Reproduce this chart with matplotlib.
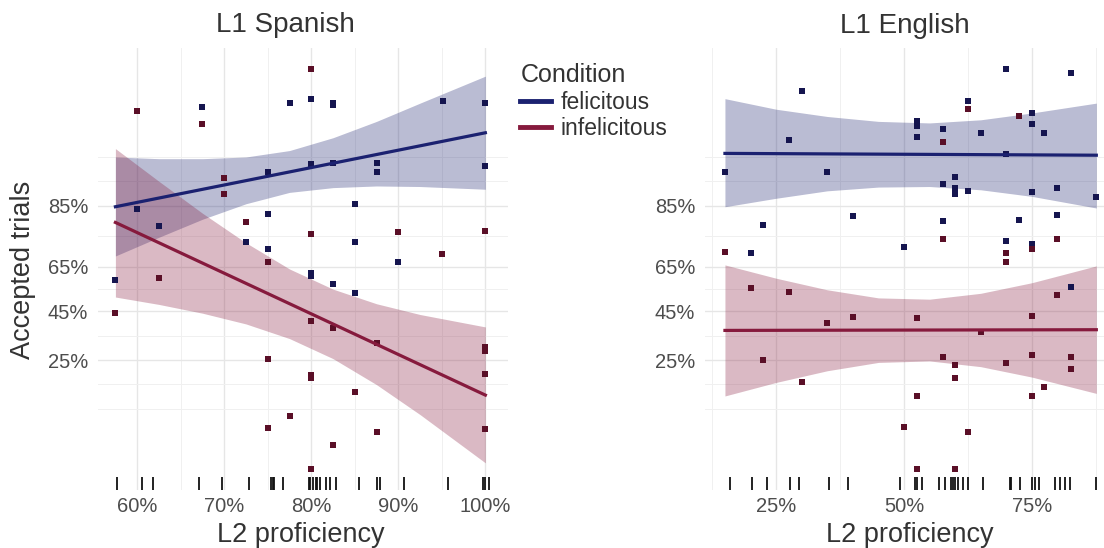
import numpy as np
import matplotlib
matplotlib.use('Agg')
import matplotlib.pyplot as plt
from matplotlib.lines import Line2D
from matplotlib.ticker import FixedLocator, NullFormatter

plt.rcParams['font.family'] = ['Liberation Sans', 'DejaVu Sans']

# ---- L1 Spanish panel (x = L2 proficiency %, y = accepted trials %) ----
spa_fel_x = [67.4, 77.5, 80.0, 82.5, 82.5, 95.1, 100, 100, 87.5, 87.5, 80, 82.5, 75,
             60, 62.5, 75, 85, 72.5, 75, 85, 90, 80, 80, 57.5, 82.5, 85]
spa_fel_y = [97.2, 97.4, 97.6, 97.4, 97.3, 97.5, 97.4, 92.2, 92.6, 91.4, 92.4, 92.6, 91.4,
             84.2, 79.7, 83.0, 85.5, 74.4, 72.0, 74.6, 67.1, 62.3, 61.0, 59.3, 57.5, 53.5]
spa_inf_x = [100, 90, 80, 72.5, 95, 75, 60, 67.4, 80, 62.5, 70, 70, 57.5, 80, 82.5, 87.5,
             100, 100, 100, 75, 80, 80, 85, 77.5, 75, 87.5, 100, 82.5, 80]
spa_inf_y = [78.2, 77.8, 77.1, 80.9, 70.1, 66.7, 97.0, 96.2, 98.6, 60.0, 90.4, 87.6, 44.1,
             40.8, 37.4, 31.2, 29.9, 28.3, 20.4, 25.4, 20.2, 19.3, 15.7, 10.7, 8.7, 8.1,
             8.6, 6.5, 4.3]
spa_line_x = [57.5, 100]
spa_fel_line = [84.8, 95.6]
spa_inf_line = [80.7, 14.9]
spa_band_x = [57.5, 62.5, 67.5, 72.5, 77.5, 82.5, 87.5, 92.5, 100]
spa_fel_lo = [69.3, 76.1, 81.6, 85.5, 87.9, 88.8, 89.1, 89.0, 88.5]
spa_fel_hi = [93.3, 93.1, 93.1, 93.3, 94.0, 95.2, 96.4, 97.4, 98.4]
spa_inf_lo = [51.5, 48.1, 44.1, 39.3, 33.1, 25.5, 17.5, 10.9, 4.8]
spa_inf_hi = [94.2, 89.9, 83.2, 74.2, 64.0, 55.1, 48.4, 43.5, 38.0]
spa_rug = [57.7, 60.5, 61.8, 67.1, 69.7, 72.8, 75.4, 75.6, 75.7, 76.7, 79.7, 79.9, 80.2,
           80.5, 80.7, 81.0, 81.7, 82.2, 82.8, 85.5, 87.6, 87.9, 90.6, 95.7, 99.7, 100.0, 100.4]

# ---- L1 English panel ----
eng_fel_x = [70, 82.6, 30, 62.5, 75, 75, 77.4, 52.6, 52.6, 52.6, 52.6, 57.6, 65, 27.5, 70,
             15, 35, 60, 57.6, 60, 60, 62.5, 75, 80, 87.6, 40.1, 22.5, 57.6, 72.5, 80, 50,
             70, 75, 75, 82.6, 20]
eng_fel_y = [98.6, 98.5, 97.9, 97.5, 96.9, 96.2, 95.6, 96.4, 96.3, 96.1, 95.3, 95.9, 95.6,
             95.0, 93.6, 91.3, 91.3, 90.6, 89.4, 88.8, 87.5, 88.1, 87.9, 88.8, 87.0, 82.5,
             80.1, 81.0, 81.5, 82.8, 72.8, 74.7, 73.7, 72.9, 56.0, 70.4]
eng_inf_x = [62.5, 72.5, 57.6, 57.6, 80, 70, 75, 70, 15, 20, 27.5, 35, 40.1, 52.6, 65, 80,
             75, 22.5, 57.6, 60, 60, 70, 75, 82.6, 82.6, 30, 77.4, 52.6, 75, 50, 62.5,
             52.6, 60]
eng_inf_y = [97.1, 96.7, 94.8, 75.6, 75.6, 70.4, 71.9, 66.8, 70.9, 55.5, 54.0, 39.7, 42.6,
             41.8, 36.0, 52.5, 42.9, 25.0, 26.1, 23.3, 19.3, 23.9, 26.9, 26.1, 22.1, 18.1,
             16.9, 14.6, 14.6, 8.9, 8.1, 4.3, 4.3]
eng_line_x = [15, 87.6]
eng_fel_line = [93.7, 93.5]
eng_inf_line = [36.5, 36.8]
eng_band_x = [15, 25, 35, 45, 55, 65, 75, 87.6]
eng_fel_lo = [84.8, 86.7, 88.2, 88.9, 89.0, 88.4, 87.1, 84.5]
eng_fel_hi = [97.6, 97.1, 96.7, 96.4, 96.3, 96.5, 96.9, 97.4]
eng_inf_lo = [14.7, 18.1, 21.5, 24.2, 24.7, 22.8, 19.6, 15.3]
eng_inf_hi = [65.7, 60.0, 54.8, 51.1, 50.5, 53.2, 58.0, 65.3]
eng_rug = [16.0, 20.3, 23.2, 27.7, 29.4, 35.4, 39.1, 49.2, 52.1, 52.5, 53.5, 56.9, 58.0,
           59.1, 59.6, 60.0, 60.6, 61.6, 62.6, 65.4, 70.7, 71.0, 72.7, 75.1, 75.6, 76.4,
           79.5, 80.5, 81.4, 82.4, 87.6]

y_ticks = [25, 45, 65, 85]
y_labels = ['25%', '45%', '65%', '85%']
conditions = ['felicitous', 'infelicitous']

fel_color = '#1b2170'
inf_color = '#861a3d'
fel_pt = '#15154f'
inf_pt = '#5a0f27'
text_grey = '#4d4d4d'


def pct(v):
    return np.array(v) / 100.0


# minor gridlines like ggplot: halfway between breaks (in logit units) + one step beyond
lt = np.log(pct(y_ticks) / (1 - pct(y_ticks)))
step = lt[1] - lt[0]
ext = np.concatenate([[lt[0] - step], lt, [lt[-1] + step]])
minor_l = np.concatenate([(ext[:-1] + ext[1:]) / 2, [ext[0], ext[-1]]])
minor_p = 1 / (1 + np.exp(-minor_l))

fig = plt.figure(figsize=(11.04, 5.48), dpi=100)
ax_spa = fig.add_axes([98 / 1104, 58 / 548, 410 / 1104, 442 / 548])
ax_eng = fig.add_axes([705 / 1104, 58 / 548, 399 / 1104, 442 / 548])


def draw_panel(ax, band_x, fel_lo, fel_hi, inf_lo, inf_hi, line_x, fel_line, inf_line,
               fel_x, fel_y, inf_x, inf_y, rug, xlim, xticks, xlabels, xminor):
    ax.set_yscale('logit')
    ax.fill_between(band_x, pct(fel_lo), pct(fel_hi), color=fel_color, alpha=0.3,
                    lw=0, zorder=1)
    ax.fill_between(band_x, pct(inf_lo), pct(inf_hi), color=inf_color, alpha=0.3,
                    lw=0, zorder=1)
    ax.scatter(fel_x, pct(fel_y), marker='s', s=14, color=fel_pt, lw=0, zorder=2)
    ax.scatter(inf_x, pct(inf_y), marker='s', s=14, color=inf_pt, lw=0, zorder=2)
    ax.plot(line_x, pct(fel_line), color=fel_color, lw=2.3, zorder=3)
    ax.plot(line_x, pct(inf_line), color=inf_color, lw=2.3, zorder=3)
    # rug along the bottom
    ax.vlines(rug, 0, 0.03, transform=ax.get_xaxis_transform(), color='#111111',
              lw=1.3, zorder=2)

    ax.set_xlim(*xlim)
    ax.set_ylim(0.0297, 0.9904)
    ax.set_xticks(xticks, xlabels)
    ax.xaxis.set_minor_locator(FixedLocator(xminor))
    ax.set_yticks(pct(y_ticks), y_labels)
    ax.yaxis.set_minor_locator(FixedLocator(minor_p))
    ax.yaxis.set_minor_formatter(NullFormatter())
    ax.xaxis.set_minor_formatter(NullFormatter())
    ax.tick_params(which='both', length=0, labelsize=14.5, labelcolor=text_grey)
    ax.tick_params(axis='y', pad=7)
    ax.tick_params(axis='x', pad=5)
    ax.grid(which='major', color='#e6e6e6', lw=1.0)
    ax.grid(which='minor', color='#f0f0f0', lw=0.7)
    ax.set_axisbelow(True)
    for s in ax.spines.values():
        s.set_visible(False)


draw_panel(ax_spa, spa_band_x, spa_fel_lo, spa_fel_hi, spa_inf_lo, spa_inf_hi,
           spa_line_x, spa_fel_line, spa_inf_line, spa_fel_x, spa_fel_y,
           spa_inf_x, spa_inf_y, spa_rug, (55.5, 102.6),
           [60, 70, 80, 90, 100], ['60%', '70%', '80%', '90%', '100%'],
           [65, 75, 85, 95])
draw_panel(ax_eng, eng_band_x, eng_fel_lo, eng_fel_hi, eng_inf_lo, eng_inf_hi,
           eng_line_x, eng_fel_line, eng_inf_line, eng_fel_x, eng_fel_y,
           eng_inf_x, eng_inf_y, eng_rug, (11.1, 89.1),
           [25, 50, 75], ['25%', '50%', '75%'], [12.5, 37.5, 62.5, 87.5])

# titles and axis titles
fig.text(285 / 1104, 1 - 25 / 548, 'L1 Spanish', ha='center', va='center',
         fontsize=20, color='#333333')
fig.text(905 / 1104, 1 - 26 / 548, 'L1 English', ha='center', va='center',
         fontsize=20, color='#333333')
fig.text(23 / 1104, 1 - 270 / 548, 'Accepted trials', rotation=90, ha='center',
         va='center', fontsize=19.5, color='#333333')
fig.text(301 / 1104, 1 - 535 / 548, 'L2 proficiency', ha='center', va='center',
         fontsize=19.5, color='#333333')
fig.text(910 / 1104, 1 - 535 / 548, 'L2 proficiency', ha='center', va='center',
         fontsize=19.5, color='#333333')

# legend
handles = [Line2D([], [], color=fel_color, lw=3.5), Line2D([], [], color=inf_color, lw=3.5)]
leg = fig.legend(handles, conditions, title='Condition', loc='upper left',
                 bbox_to_anchor=(509 / 1104, 1 - 52 / 548), frameon=False,
                 fontsize=16.5, title_fontsize=18, handlelength=1.35,
                 handletextpad=0.4, labelspacing=0.15, borderpad=0,
                 alignment='left')
for t in leg.get_texts():
    t.set_color('#333333')
leg.get_title().set_color('#333333')

fig.savefig('out.png', dpi=100)
